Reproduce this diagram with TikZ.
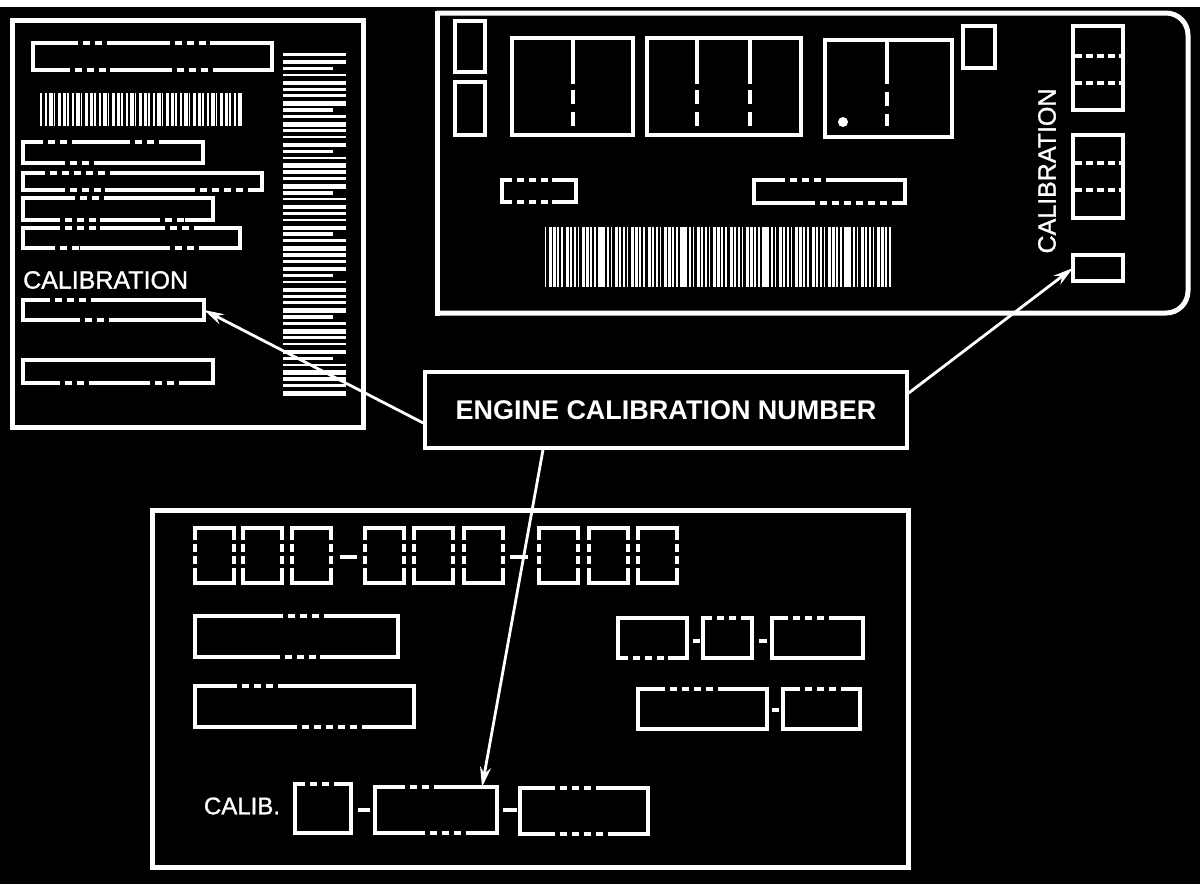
\documentclass[tikz,border=0pt]{standalone}
\usepackage{fontspec}
\setmainfont{Liberation Sans}
\newfontfamily\calfont{Liberation Sans}[FakeBold=1.2]
\usetikzlibrary{arrows.meta}

\begin{document}
\begin{tikzpicture}[x=1pt, y=-1pt,
    panel/.style={draw=white, line width=5pt},
    fld/.style={draw=white, line width=3.4pt, inner sep=0pt, outer sep=0pt},
    gap/.style={draw=black, line width=5.5pt, dash pattern=on 5pt off 7pt},
    hyph/.style={draw=white, line width=4pt},
    lbl/.style={draw=white, line width=3.5pt, text=white, minimum width=482pt,
      minimum height=76pt, font=\bfseries\fontsize{27}{30}\selectfont},
    txt/.style={text=white, inner sep=0pt, font=\calfont\fontsize{25}{28}\selectfont},
    arr/.style={draw=white, line width=2.8pt, -{Stealth[length=20pt, width=11pt]}}]

    % Background and page
    \fill[black] (0,0) rectangle (1200,884);
    \useasboundingbox (0,0) rectangle (1200,884);
    \fill[white] (0,0) rectangle (1200,7);

    % Top left label
    \draw[panel] (12,20) rectangle (363,427);
    \draw[fld] (33,43) rectangle (272,70);
    \draw[gap] (78,43) -- (108,43); \draw[gap] (170,43) -- (210,43);
    \draw[gap] (70,70) -- (110,70); \draw[gap] (172,70) -- (215,70);
    \foreach \i in {0,...,44} {
      \pgfmathsetmacro{\w}{1.8+mod(\i*7,3)}
      \fill[white] (40+\i*4.5,93) rectangle ++(\w,33);
    }
    \draw[fld] (23,142) rectangle (203,163);
    \draw[gap] (43,142) -- (75,142); \draw[gap] (130,142) -- (165,142);
    \draw[gap] (65,163) -- (100,163);
    \draw[fld] (23,173) rectangle (262,190);
    \draw[gap] (45,173) -- (110,173);
    \draw[gap] (65,190) -- (105,190); \draw[gap] (195,190) -- (250,190);
    \draw[fld] (23,198) rectangle (213,220);
    \draw[gap] (75,198) -- (110,198);
    \draw[gap] (60,220) -- (100,220); \draw[gap] (160,220) -- (185,220);
    \draw[fld] (23,228) rectangle (240,248);
    \draw[gap] (60,228) -- (100,228); \draw[gap] (165,228) -- (200,228);
    \draw[gap] (55,248) -- (80,248); \draw[gap] (170,248) -- (200,248);
    \node[txt, anchor=west] (tltxt) at (23,280) {CALIBRATION};
    \node[fld, minimum width=181pt, minimum height=20pt] (tlcal) at (113.5,310) {};
    \draw[gap] (50,300) -- (95,300); \draw[gap] (80,320) -- (115,320);
    \draw[fld] (23,360) rectangle (213,383);
    \draw[gap] (60,383) -- (95,383); \draw[gap] (150,383) -- (185,383);
    \foreach \i in {0,...,49} {
      \pgfmathsetmacro{\h}{2.5+mod(\i*5,3)}
      \pgfmathsetmacro{\l}{mod(\i,6)==2 ? 50 : 63}
      \fill[white] (283,53+\i*6.9) rectangle ++(\l,\h);
    }

    % Top right label
    \draw[panel, line cap=rect] (437,13) -- (437,313);
    \draw[panel, rounded corners=22pt] (437,13) -- (1188,13) -- (1188,313) -- (437,313);
    \draw[fld] (455,21) rectangle (485,72);
    \draw[fld] (455,82) rectangle (485,135);
    \draw[fld] (512,38) rectangle (633,135);
    \draw[fld] (573,38) -- (573,84);
    \draw[fld, dash pattern=on 14pt off 8pt] (573,90) -- (573,126);
    \draw[fld] (647,38) rectangle (801,135);
    \foreach \x in {697,750} {
      \draw[fld] (\x,38) -- (\x,84);
      \draw[fld, dash pattern=on 14pt off 8pt] (\x,90) -- (\x,135);
    }
    \draw[fld] (825,40) rectangle (952,137);
    \draw[fld] (887,40) -- (887,84);
    \draw[fld, dash pattern=on 14pt off 8pt] (887,92) -- (887,126);
    \fill[white] (843,122) circle (5);
    \draw[fld] (963,26) rectangle (995,68);
    \draw[fld] (502,180) rectangle (576,202);
    \draw[gap] (512,180) -- (552,180); \draw[gap] (512,202) -- (552,202);
    \draw[fld] (754,180) rectangle (905,203);
    \draw[gap] (785,180) -- (830,180); \draw[gap] (815,203) -- (895,203);
    \foreach \i in {0,...,84} {
      \pgfmathsetmacro{\w}{1.4+mod(\i*11,4)*0.6}
      \fill[white] (545+\i*4.1,227) rectangle ++(\w,60);
    }
    \node[txt, rotate=90] (trtxt) at (1047,171) {CALIBRATION};
    \draw[fld] (1073,26) rectangle (1123,110);
    \draw[fld] (1073,135) rectangle (1123,218);
    \foreach \y in {56,83,163,190}
      \draw[fld, dash pattern=on 7pt off 4pt] (1075,\y) -- (1121,\y);
    \node[fld, minimum width=50pt, minimum height=26pt] (trcal) at (1098,268) {};

    % Bottom label
    \draw[panel] (152,510) rectangle (908,867);
    \foreach \x in {195,243,292,365,414,464,539,589,638} {
      \draw[fld] (\x,528) rectangle ++(39,55);
      \draw[gap, dash pattern=on 4pt off 8pt] (\x,540) -- ++(0,32);
      \draw[gap, dash pattern=on 4pt off 8pt] (\x+39,540) -- ++(0,32);
    }
    \draw[hyph] (340,557) -- (357,557);
    \draw[hyph] (510,557) -- (528,557);
    \draw[fld] (195,616) rectangle (398,657);
    \draw[gap] (283,616) -- (327,616); \draw[gap] (280,657) -- (320,657);
    \draw[fld] (195,686) rectangle (414,727);
    \draw[gap] (237,686) -- (280,686); \draw[gap] (297,727) -- (367,727);
    \draw[fld] (618,618) rectangle (687,658);
    \draw[gap] (628,658) -- (668,658);
    \draw[hyph] (693,641) -- (700,641);
    \draw[fld] (703,618) rectangle (752,658);
    \draw[gap] (712,618) -- (745,618);
    \draw[hyph] (759,641) -- (767,641);
    \draw[fld] (772,618) rectangle (863,658);
    \draw[gap] (788,618) -- (832,618);
    \draw[fld] (638,689) rectangle (767,729);
    \draw[gap] (665,689) -- (720,689);
    \draw[hyph] (772,710) -- (779,710);
    \draw[fld] (783,689) rectangle (860,729);
    \draw[gap] (800,689) -- (842,689);
    \node[txt, font=\calfont\fontsize{24}{27}\selectfont] (btxt) at (242,806) {CALIB.};
    \draw[fld] (295,784) rectangle (351,833);
    \draw[gap] (305,784) -- (335,784);
    \draw[hyph] (358,810) -- (370,810);
    \node[fld, minimum width=122pt, minimum height=46pt] (bcal) at (436,810) {};
    \draw[gap] (405,787) -- (440,787); \draw[gap] (425,833) -- (470,833);
    \draw[hyph] (503,810) -- (517,810);
    \draw[fld] (520,788) rectangle (648,834);
    \draw[gap] (555,788) -- (600,788); \draw[gap] (555,834) -- (610,834);

    % Callout and arrows
    \node[lbl] (ecn) at (666,410) {ENGINE CALIBRATION NUMBER};
    \draw[arr] ([yshift=-13pt]ecn.west) -- (tlcal.east);
    \draw[arr] ([yshift=17pt]ecn.east) -- (trcal.west);
    \draw[arr] ([xshift=-123pt]ecn.south) -- ([xshift=-15pt]bcal.north east);
\end{tikzpicture}
\end{document}
